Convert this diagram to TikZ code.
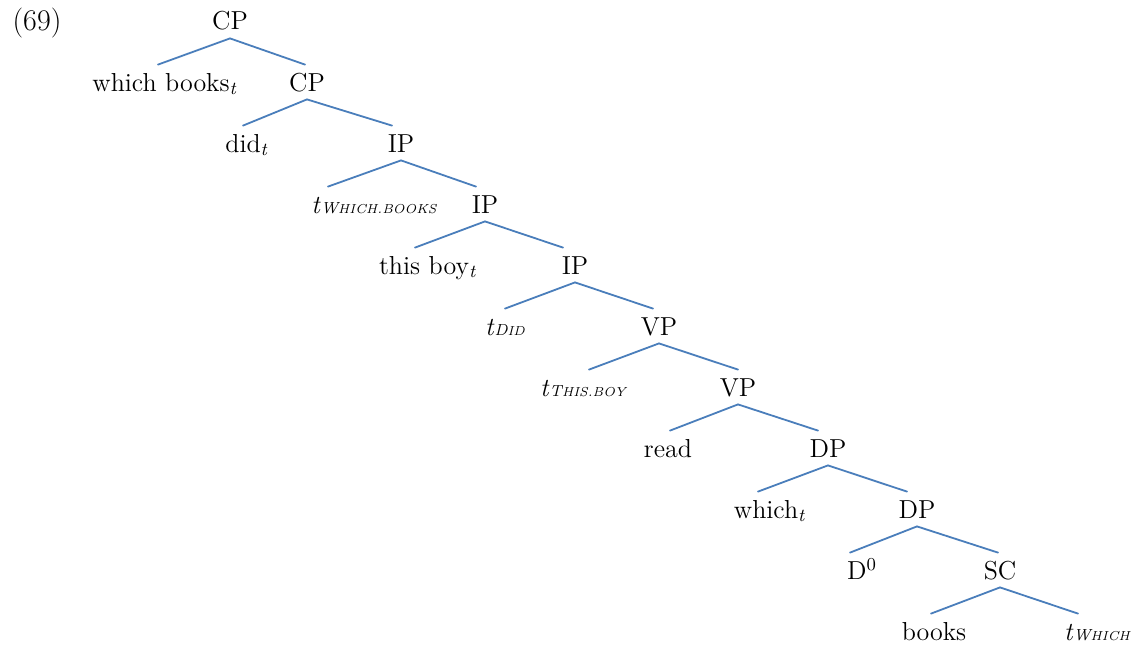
\documentclass[tikz,border=0pt]{standalone}
\definecolor{branchblue}{HTML}{4A7EBB}
\tikzset{
  every picture/.style={line cap=round, line join=round},
  branch/.style={branchblue, line width=0.9pt},
  % labels sit on their baseline; north/south are where the branches meet them
  cat/.style={anchor=base, inner sep=0pt, text height=13pt, text depth=4pt,
    font=\fontsize{13}{15}\selectfont},
}
% index t and traces with small-capital subscripts
\newcommand\idx{\textsubscript{\textit{t}}}
\newcommand\trc[2]{\textit{t}{\itshape\fontsize{8}{9}\selectfont #1\fontsize{6.5}{8}\selectfont #2}}

\begin{document}
\begin{tikzpicture}[x=0.5pt, y=-0.5pt]
  \useasboundingbox (0,0) rectangle (1134,647);
  \node[anchor=base, inner sep=0pt, font=\fontsize{15}{17}\selectfont] (ex) at (37,31) {(69)};
  % one level every 61px, pairs of daughters below each node
  \foreach \n/\p/\t in {cpA/{(230,30)}/CP,
      wbooks/{(165,91)}/which books\idx, cpB/{(307,91)}/CP,
      did/{(247,152)}/did\idx, ipA/{(401,152)}/IP,
      twbooks/{(374,213)}/\trc{W}{HICH.BOOKS}, ipB/{(485,213)}/IP,
      thisboy/{(428,274)}/this boy\idx, ipC/{(575,274)}/IP,
      tdid/{(505,335)}/\trc{D}{ID}, vpA/{(659,335)}/VP,
      tthisboy/{(583,396)}/\trc{T}{HIS.BOY}, vpB/{(738,396)}/VP,
      read/{(668,457)}/read, dpA/{(828,457)}/DP,
      which/{(770,518)}/which\idx, dpB/{(917,518)}/DP,
      dzero/{(862,579)}/D\textsuperscript{0}, sc/{(1000,579)}/SC,
      books/{(934,640)}/books, twhich/{(1097,640)}/\trc{W}{HICH}}
    \node[cat] (\n) at \p {\t};
  % branches, shifted where the line meets the label off its centre
  \foreach \a/\b/\dx in {cpA/wbooks/-7, cpA/cpB/-2, cpB/did/-4, cpB/ipA/-9,
      ipA/twbooks/-46, ipA/ipB/-9, ipB/thisboy/-13, ipB/ipC/-12,
      ipC/tdid/0, ipC/vpA/-6, vpA/tthisboy/6, vpA/vpB/0,
      vpB/read/2, vpB/dpA/-10, dpA/which/-12, dpA/dpB/-10,
      dpB/dzero/-12, dpB/sc/-2, sc/books/-3, sc/twhich/-19}
    \draw[branch] (\a.south) -- ([xshift=\dx*0.5pt]\b.north);
\end{tikzpicture}
\end{document}
